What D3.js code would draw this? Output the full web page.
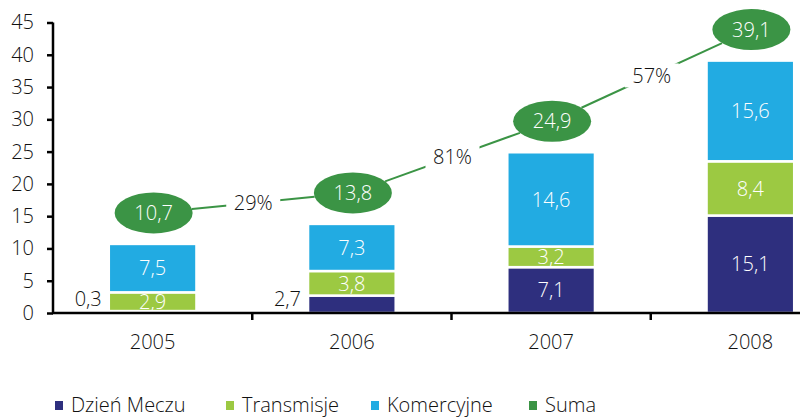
<!DOCTYPE html>
<html><head><meta charset="utf-8">
<script src="https://cdn.jsdelivr.net/npm/d3@7"></script>
<style>
html,body{margin:0;padding:0;background:#fff;overflow:hidden}
text{font-family:"Open Sans",sans-serif;font-weight:300}
</style></head>
<body>
<svg id="c" width="800" height="419"></svg>
<script>
const categories = ["2005","2006","2007","2008"];
const dzienMeczu = [0.3, 2.7, 7.1, 15.1];
const transmisje = [2.9, 3.8, 3.2, 8.4];
const komercyjne = [7.5, 7.3, 14.6, 15.6];
const suma = [10.7, 13.8, 24.9, 39.1];
const growth = ["29%", "81%", "57%"];
const yTicks = [0,5,10,15,20,25,30,35,40,45];
const seriesNames = ["Dzień Meczu","Transmisje","Komercyjne","Suma"];
const colors = ["#2e2f7e","#9cc942","#22abe2","#3b9445"];
const fmt = v => String(v).replace(".", ",");
const FS = 20;

const svg = d3.select("#c");
const x = d3.scaleBand().domain(categories).range([53, 850]).padding(0);
const y = d3.scaleLinear().domain([0,45]).range([313, 22.5]);
const barW = x.bandwidth()*0.44;
const cx = c => x(c) + x.bandwidth()/2;

// stacked bars
const stackSeries = [dzienMeczu, transmisje, komercyjne];
const segs = [];
categories.forEach((c,i)=>{
  let base = 0;
  stackSeries.forEach((s,k)=>{
    segs.push({c, k, y0: base, y1: base + s[i], v: s[i]});
    base += s[i];
  });
});
svg.append("g").selectAll("rect").data(segs).join("rect")
  .attr("x", d=>cx(d.c)-barW/2)
  .attr("width", barW)
  .attr("y", d=>y(d.y1))
  .attr("height", d=>y(d.y0)-y(d.y1))
  .attr("fill", d=>colors[d.k])
  .attr("stroke", "#fff").attr("stroke-width", 2.5);

// segment labels
const outside = d => d.v < 2.8 && d.k===0;
svg.append("g").selectAll("text").data(segs).join("text")
  .attr("x", d=> outside(d) ? cx(d.c)-barW/2-7 : cx(d.c))
  .attr("y", d=>{
    const m = y((d.y0+d.y1)/2);
    return outside(d) ? Math.min(m, y(0)-14) : m;
  })
  .attr("dy","0.36em")
  .attr("text-anchor", d=> outside(d) ? "end" : "middle")
  .attr("fill", d=> outside(d) ? "#111" : "#fff")
  .attr("font-size", FS)
  .text(d=>fmt(d.v));

// axes
const yAxis = svg.append("g").attr("transform","translate(53,0)")
  .call(d3.axisLeft(y).tickValues(yTicks).tickSize(6).tickPadding(13).tickFormat(d=>d));
yAxis.select(".domain").attr("stroke","#000").attr("stroke-width",2.5).attr("d","M0,22.5V314");
yAxis.selectAll(".tick line").attr("stroke","#000").attr("stroke-width",2.5);
yAxis.selectAll(".tick text").attr("font-size",FS).attr("fill","#111")
  .attr("font-family","Open Sans, sans-serif").attr("font-weight",300);

const xAxis = svg.append("g").attr("transform","translate(0,313)");
xAxis.append("line").attr("x1",52).attr("x2",800).attr("y1",0).attr("y2",0)
  .attr("stroke","#000").attr("stroke-width",2.5);
xAxis.selectAll("line.t").data(categories.slice(1)).join("line").attr("class","t")
  .attr("x1",c=>x(c)).attr("x2",c=>x(c)).attr("y1",0).attr("y2",7)
  .attr("stroke","#000").attr("stroke-width",2.5);
xAxis.selectAll("text").data(categories).join("text")
  .attr("x",c=>cx(c)).attr("y",36).attr("text-anchor","middle")
  .attr("font-size",FS).attr("fill","#111").text(c=>c);

// suma line and ellipses
const off = 31, rx = 39, ry = 20.5;
const pts = categories.map((c,i)=>({x: cx(c)+1, y: y(suma[i])-off, v: suma[i]}));
const lg = svg.append("g");
for (let i=0;i<pts.length-1;i++){
  const a = pts[i], b = pts[i+1];
  const t = Math.atan2(b.y-a.y, b.x-a.x);
  const ea = 1/Math.sqrt((Math.cos(t)/rx)**2 + (Math.sin(t)/ry)**2);
  const x1 = a.x + ea*Math.cos(t), y1 = a.y + ea*Math.sin(t);
  const x2 = b.x - ea*Math.cos(t), y2 = b.y - ea*Math.sin(t);
  lg.append("line").attr("x1",x1).attr("y1",y1).attr("x2",x2).attr("y2",y2)
    .attr("stroke",colors[3]).attr("stroke-width",2);
  const mx = (a.x+b.x)/2, my = (a.y+b.y)/2;
  lg.append("rect").attr("x",mx-27).attr("y",my-12).attr("width",54).attr("height",24).attr("fill","#fff");
  lg.append("text").attr("x",mx).attr("y",my).attr("dy","0.36em").attr("text-anchor","middle")
    .attr("font-size",FS).attr("fill","#111").text(growth[i]);
}
const eg = svg.append("g").selectAll("g").data(pts).join("g");
eg.append("ellipse").attr("cx",d=>d.x).attr("cy",d=>d.y).attr("rx",rx).attr("ry",ry).attr("fill",colors[3]);
eg.append("text").attr("x",d=>d.x).attr("y",d=>d.y).attr("dy","0.36em").attr("text-anchor","middle")
  .attr("font-size",FS).attr("fill","#fff").text(d=>fmt(d.v));

// legend
const legX = [55, 226, 371, 529];
const lgd = svg.append("g").selectAll("g").data(seriesNames).join("g")
  .attr("transform",(d,i)=>`translate(${legX[i]},0)`);
lgd.append("rect").attr("x",0).attr("y",401).attr("width",8).attr("height",9).attr("fill",(d,i)=>colors[i]);
lgd.append("text").attr("x",16).attr("y",412).attr("font-size",FS).attr("fill","#111").text(d=>d);
</script>
</body></html>
